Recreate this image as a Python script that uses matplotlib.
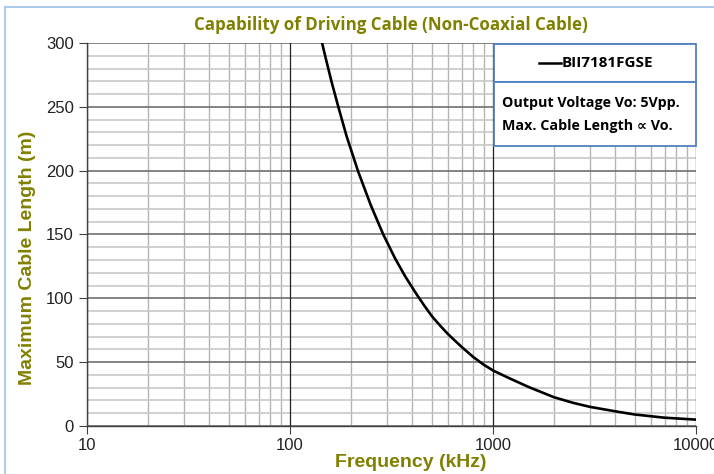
import numpy as np
import matplotlib
matplotlib.use("Agg")
import matplotlib.pyplot as plt
from matplotlib.lines import Line2D
from matplotlib.patches import Rectangle

# values
freq_khz = [140, 150, 160, 173, 190, 217, 250, 288, 330, 370, 421, 460, 500,
            550, 600, 700, 800, 900, 1000, 1200, 1500, 2000, 2500, 3000, 4000,
            5000, 7000, 10000]
cable_m = [308, 288, 270, 250, 227, 199, 173, 150, 131, 117, 103, 94, 86,
           78.5, 72, 62, 54, 48, 43.5, 37.5, 30.5, 22.5, 18, 15, 11.5,
           9, 6.5, 5]
x_ticks = [10, 100, 1000, 10000]
y_ticks = [0, 50, 100, 150, 200, 250, 300]
series_name = "BII7181FGSE"
note_lines = ["Output Voltage Vo: 5Vpp.", "Max. Cable Length \u221d Vo."]

olive = "#808000"
box_blue = "#4F81BD"

plt.rcParams['font.family'] = ['Liberation Sans', 'DejaVu Sans']

fig = plt.figure(figsize=(7.14, 4.74), dpi=100)
ax = fig.add_axes([87/714, 1 - 426/474, (696-87)/714, (426-43)/474])

ax.plot(freq_khz, cable_m, color="black", lw=1.9, solid_capstyle="round",
        solid_joinstyle="round", zorder=3)
ax.set_xscale("log")
ax.set_xlim(10, 10000)
ax.set_ylim(0, 300)

ax.set_xticks(x_ticks)
ax.set_xticklabels([str(v) for v in x_ticks])
ax.set_yticks(y_ticks)
ax.set_yticks(np.arange(0, 301, 10), minor=True)
ax.tick_params(axis="both", which="major", labelsize=12, length=6,
               color="#404040", labelcolor="#222222")
ax.tick_params(axis="x", which="major", pad=3)
ax.tick_params(axis="both", which="minor", length=0)

ax.grid(True, axis="y", which="major", color="#707070", lw=1.2)
ax.grid(True, axis="x", which="minor", color="#b4b4b4", lw=1.0)
ax.grid(True, axis="y", which="minor", color="#c8c8c8", lw=1.2)
ax.set_axisbelow(True)
for v in x_ticks:
    ax.axvline(v, color="#202020", lw=0.9, zorder=1.5)

for s in ["top", "right"]:
    ax.spines[s].set_visible(False)
for s in ["left", "bottom"]:
    ax.spines[s].set_color("#404040")
    ax.spines[s].set_linewidth(1.0)

ax.set_xlabel("Frequency (kHz)", fontsize=14, fontweight="bold", color=olive,
              va="top")
ax.xaxis.set_label_coords(0.532, -0.073)
ax.set_ylabel("Maximum Cable Length (m)", fontsize=14, fontweight="bold",
              color=olive)
ax.yaxis.set_label_coords(-0.084, 0.44)

fig.text(391/714, 1 - 25/474, "Capability of Driving Cable (Non-Coaxial Cable)",
         ha="center", va="center", fontsize=12.2, fontweight="bold",
         color=olive, family=["Open Sans", "DejaVu Sans"])

# legend / note boxes
W, H = 714, 474
def fx(px):
    return px / W
def fy(py):
    return 1 - py / H

box1 = Rectangle((fx(494), fy(82)), fx(696) - fx(494), fy(44) - fy(82),
                 transform=fig.transFigure, facecolor="white",
                 edgecolor=box_blue, lw=1.3, zorder=5)
box2 = Rectangle((fx(494), fy(146)), fx(696) - fx(494), fy(82) - fy(146),
                 transform=fig.transFigure, facecolor="white",
                 edgecolor=box_blue, lw=1.3, zorder=5)
fig.add_artist(box1)
fig.add_artist(box2)
fig.add_artist(Line2D([fx(539), fx(561)], [fy(63), fy(63)], color="black",
                      lw=1.8, transform=fig.transFigure, zorder=6))
fig.text(fx(562), fy(63), series_name, ha="left", va="center", fontsize=11,
         fontweight="bold", color="black", zorder=6,
         family=["Open Sans", "DejaVu Sans"])
fig.text(fx(502), fy(103), note_lines[0], ha="left", va="center", fontsize=10.3,
         fontweight="bold", color="black", zorder=6,
         family=["Open Sans", "DejaVu Sans"])
fig.text(fx(502), fy(126), note_lines[1], ha="left", va="center", fontsize=10.3,
         fontweight="bold", color="black", zorder=6,
         family=["Open Sans", "DejaVu Sans"])

# chart area border (top and left edges visible)
fig.add_artist(Line2D([fx(5), 1], [fy(7), fy(7)], color="#9dc3e6", lw=1.2,
                      transform=fig.transFigure))
fig.add_artist(Line2D([fx(5), fx(5)], [0, fy(7)], color="#9dc3e6", lw=1.2,
                      transform=fig.transFigure))

fig.savefig("out.png", dpi=100)
